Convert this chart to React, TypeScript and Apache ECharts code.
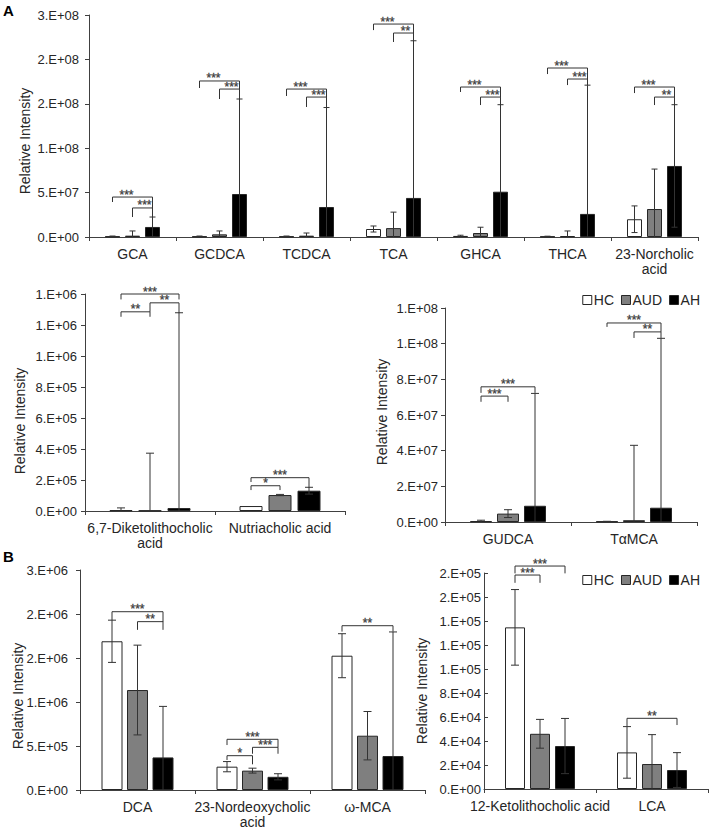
import React, { useEffect, useRef } from "react";
import * as echarts from "echarts";

const FONT = "'Liberation Sans', Arial, Helvetica, sans-serif";
const AX = "#404040";
const TXT = "#262626";
const LINE = "#333333";

const groups = ["HC", "AUD", "AH"];
const fills = ["#ffffff", "#7f7f7f", "#000000"];

// ---------- Panel A (top) ----------
const catsA = ["GCA", "GCDCA", "TCDCA", "TCA", "GHCA", "THCA", "23-Norcholic\nacid"];
const hcA = [0.6e6, 0.6e6, 0.6e6, 9.0e6, 1.2e6, 0.5e6, 2.0e7];
const hcSdA = [0.5e6, 0.5e6, 0.5e6, 3.4e6, 0.8e6, 0.4e6, 1.5e7];
const audA = [1.5e6, 3.0e6, 1.5e6, 1.0e7, 4.5e6, 1.0e6, 3.15e7];
const audSdA = [5.3e6, 3.8e6, 3.0e6, 1.8e7, 6.5e6, 5.8e6, 4.5e7];
const ahA = [1.13e7, 4.84e7, 3.38e7, 4.4e7, 5.1e7, 2.6e7, 8.0e7];
const ahSdA = [1.12e7, 1.07e8, 1.12e8, 1.77e8, 9.8e7, 1.45e8, 6.9e7];
const ticksA = ["0.E+00", "5.E+07", "1.E+08", "2.E+08", "2.E+08", "3.E+08"];
// [category, fromBar, toBar, lineValue, leftTickEnd, rightTickEnd, label]
const bracketsA: any[] = [
  [0, 0, 2, 45e6, 39.4e6, 32.7e6, "***"],
  [0, 1, 2, 32.7e6, 22.5e6, 22.5e6, "***"],
  [1, 0, 2, 175.7e6, 167.8e6, 166.6e6, "***"],
  [1, 1, 2, 166.6e6, 155.4e6, 155.4e6, "***"],
  [2, 0, 2, 166.6e6, 158.8e6, 157.6e6, "***"],
  [2, 1, 2, 157.6e6, 146.4e6, 146.4e6, "***"],
  [3, 0, 2, 239.8e6, 233e6, 229.7e6, "***"],
  [3, 1, 2, 229.7e6, 219.6e6, 220.7e6, "**"],
  [4, 0, 2, 168.9e6, 163.3e6, 157.6e6, "***"],
  [4, 1, 2, 157.6e6, 148.6e6, 148.6e6, "***"],
  [5, 0, 2, 190.3e6, 183.5e6, 177.9e6, "***"],
  [5, 1, 2, 177.9e6, 171.1e6, 171.1e6, "***"],
  [6, 0, 2, 168.9e6, 162.1e6, 157.6e6, "***"],
  [6, 1, 2, 157.6e6, 148.6e6, 148.6e6, "**"],
];

// ---------- Panel A middle-left ----------
const cats2 = ["6,7-Diketolithocholic\nacid", "Nutriacholic acid"];
const hc2 = [5e3, 3.2e4];
const hcSd2 = [1.5e4, 0];
const aud2 = [3e3, 1.03e5];
const audSd2 = [3.7e5, 4e3];
const ah2 = [1.9e4, 1.31e5];
const ahSd2 = [1.26e6, 2.2e4];
const ticks2 = ["0.E+00", "2.E+05", "4.E+05", "6.E+05", "8.E+05", "1.E+06", "1.E+06", "1.E+06"];
const brackets2: any[] = [
  [0, 0, 2, 1.4e6, 1.365e6, 1.365e6, "***"],
  [0, 1, 2, 1.343e6, 1.285e6, 1.277e6, "**"],
  [0, 0, 1, 1.285e6, 1.253e6, 1.253e6, "**"],
  [1, 0, 1, 1.63e5, 1.35e5, 1.35e5, "*"],
  [1, 0, 2, 2.15e5, 1.87e5, 1.5e5, "***"],
];

// ---------- Panel A middle-right ----------
const cats3 = ["GUDCA", "TαMCA"];
const hc3 = [0.5e6, 0.3e6];
const hcSd3 = [0.5e6, 0.1e6];
const aud3 = [4.7e6, 1.0e6];
const audSd3 = [2.2e6, 4.2e7];
const ah3 = [9.1e6, 8.0e6];
const ahSd3 = [6.3e7, 9.5e7];
const ticks3 = ["0.E+00", "2.E+07", "4.E+07", "6.E+07", "8.E+07", "1.E+08", "1.E+08"];
const brackets3: any[] = [
  [0, 0, 2, 75.8e6, 72.4e6, 72.4e6, "***"],
  [0, 0, 1, 70.6e6, 67.4e6, 67.4e6, "***"],
  [1, 0, 2, 111.6e6, 109.4e6, 106.6e6, "***"],
  [1, 1, 2, 106.6e6, 103.2e6, 103.2e6, "**"],
];

// ---------- Panel B left ----------
const cats4 = ["DCA", "23-Nordeoxycholic\nacid", "ω-MCA"];
const hc4 = [1.69e6, 0.265e6, 1.526e6];
const hcSd4 = [0.24e6, 0.058e6, 0.25e6];
const aud4 = [1.136e6, 0.22e6, 0.617e6];
const audSd4 = [0.51e6, 0.028e6, 0.275e6];
const ah4 = [0.37e6, 0.15e6, 0.386e6];
const ahSd4 = [0.58e6, 0.035e6, 1.41e6];
const ticks4 = ["0.E+00", "5.E+05", "1.E+06", "2.E+06", "2.E+06", "3.E+06"];
const brackets4: any[] = [
  [0, 0, 2, 2.026e6, 1.93e6, 1.91e6, "***"],
  [0, 1, 2, 1.913e6, 1.82e6, 1.82e6, "**"],
  [1, 0, 2, 0.576e6, 0.511e6, 0.485e6, "***"],
  [1, 1, 2, 0.485e6, 0.412e6, 0.412e6, "***"],
  [1, 0, 1, 0.39e6, 0.341e6, 0.292e6, "*"],
  [2, 0, 2, 1.867e6, 1.8e6, 1.8e6, "**"],
];

// ---------- Panel B right ----------
const cats5 = ["12-Ketolithocholic acid", "LCA"];
const hc5 = [1.347e5, 3.05e4];
const hcSd5 = [3.15e4, 2.15e4];
const aud5 = [4.6e4, 2.08e4];
const audSd5 = [1.2e4, 2.45e4];
const ah5 = [3.58e4, 1.58e4];
const ahSd5 = [2.3e4, 1.45e4];
const ticks5 = ["0.E+00", "2.E+04", "4.E+04", "6.E+04", "8.E+04", "1.E+05", "1.E+05", "1.E+05", "2.E+05", "2.E+05"];
const brackets5: any[] = [
  [0, 0, 2, 1.858e5, 1.797e5, 1.797e5, "***"],
  [0, 0, 1, 1.783e5, 1.718e5, 1.718e5, "***"],
  [1, 0, 2, 5.89e4, 5.25e4, 5.33e4, "**"],
];

const panels = [
  { cats: catsA, vals: [hcA, audA, ahA], sds: [hcSdA, audSdA, ahSdA], ticks: ticksA, interval: 5e7, max: 2.5e8,
    brackets: bracketsA, grid: [89, 15, 609, 222], barWidth: 15, step: 20, cap: 3, yMargin: 10, tickInside: false,
    name: [25, 141], shiftOuter: true },
  { cats: cats2, vals: [hc2, aud2, ah2], sds: [hcSd2, audSd2, ahSd2], ticks: ticks2, interval: 2e5, max: 1.4e6,
    brackets: brackets2, grid: [85, 294, 260, 217], barWidth: 23, step: 29, cap: 4, yMargin: 8, tickInside: false,
    name: [20, 421], shiftOuter: false },
  { cats: cats3, vals: [hc3, aud3, ah3], sds: [hcSd3, audSd3, ahSd3], ticks: ticks3, interval: 2e7, max: 1.2e8,
    brackets: brackets3, grid: [445, 308, 252, 214], barWidth: 22, step: 27, cap: 4, yMargin: 7, tickInside: false,
    name: [382, 412], shiftOuter: false },
  { cats: cats4, vals: [hc4, aud4, ah4], sds: [hcSd4, audSd4, ahSd4], ticks: ticks4, interval: 5e5, max: 2.5e6,
    brackets: brackets4, grid: [80, 570, 345, 220], barWidth: 21, step: 25.5, cap: 4, yMargin: 12, tickInside: false,
    name: [18, 696], shiftOuter: false },
  { cats: cats5, vals: [hc5, aud5, ah5], sds: [hcSd5, audSd5, ahSd5], ticks: ticks5, interval: 2e4, max: 1.8e5,
    brackets: brackets5, grid: [484, 573, 224, 216], barWidth: 20, step: 25, cap: 4, yMargin: 3, tickInside: true,
    name: [422, 691], shiftOuter: false },
];

function buildOption() {
  const series: any[] = [];
  panels.forEach((p, i) => {
    const gapPct = ((p.step - p.barWidth) / p.barWidth) * 100 + "%";
    groups.forEach((g, gi) => {
      series.push({
        type: "bar", name: g, xAxisIndex: i, yAxisIndex: i, data: p.vals[gi],
        barWidth: p.barWidth, barGap: gapPct, z: 2, silent: true,
        itemStyle: { color: fills[gi], borderColor: "#262626", borderWidth: 1 },
      });
    });
    const errs: any[] = [];
    p.vals.forEach((arr, gi) =>
      arr.forEach((v, c) => {
        const sd = p.sds[gi][c];
        if (sd > 0) errs.push({ c, g: gi, lo: Math.max(0, v - sd), hi: v + sd });
      })
    );
    series.push({
      type: "custom", xAxisIndex: i, yAxisIndex: i, z: 5, silent: true, clip: false,
      color: LINE, itemStyle: { color: LINE },
      data: errs.map((e) => [e.c, e.hi]),
      renderItem: (params: any, api: any) => {
        const e = errs[params.dataIndex];
        const t = api.coord([e.c, e.hi]);
        const b = api.coord([e.c, e.lo]);
        const x = t[0] + (e.g - 1) * p.step;
        const st = { stroke: LINE, lineWidth: 1 };
        const ch: any[] = [
          { type: "line", shape: { x1: x, y1: t[1], x2: x, y2: b[1] }, style: st },
          { type: "line", shape: { x1: x - p.cap, y1: t[1], x2: x + p.cap, y2: t[1] }, style: st },
        ];
        if (e.lo > 0) ch.push({ type: "line", shape: { x1: x - p.cap, y1: b[1], x2: x + p.cap, y2: b[1] }, style: st });
        return { type: "group", children: ch };
      },
    });
    series.push({
      type: "custom", xAxisIndex: i, yAxisIndex: i, z: 6, silent: true, clip: false,
      color: LINE, itemStyle: { color: LINE },
      data: p.brackets.map((b: any) => [b[0], b[3]]),
      renderItem: (params: any, api: any) => {
        const b = p.brackets[params.dataIndex];
        const c = api.coord([b[0], b[3]]);
        const x1 = c[0] + (b[1] - 1) * p.step;
        const x2 = c[0] + (b[2] - 1) * p.step;
        const yl = api.coord([b[0], b[4]])[1];
        const yr = api.coord([b[0], b[5]])[1];
        const st = { stroke: LINE, lineWidth: 1, fill: "none" };
        let dx = 0;
        if (p.shiftOuter) {
          if (b[1] === 0 && b[2] === 2) dx = -0.3 * p.step;
          else if (b[1] === 1 && b[2] === 2) dx = 0.1 * p.step;
        }
        return {
          type: "group",
          children: [
            { type: "polyline", shape: { points: [[x1, yl], [x1, c[1]], [x2, c[1]], [x2, yr]] }, style: st },
            {
              type: "text", x: (x1 + x2) / 2 + dx, y: c[1] - 2.5,
              style: { text: b[6], fontSize: 12, lineHeight: 7, fontFamily: FONT, fill: "#404040", stroke: "#404040",
                lineWidth: 0.3, align: "center", verticalAlign: "middle" },
            },
          ],
        };
      },
    });
  });

  const legendData = groups.map((g, gi) => ({
    name: g, itemStyle: { color: fills[gi], borderColor: "#262626", borderWidth: 1 },
  }));
  const legendBase = {
    icon: "rect", itemWidth: 9, itemHeight: 9, itemGap: 7, selectedMode: false,
    textStyle: { fontSize: 14, color: TXT, fontFamily: FONT, padding: [0, 0, 0, -3] },
    data: legendData,
  };

  const graphic: any[] = [
    { type: "text", x: 3, y: 3, style: { text: "A", font: `bold 15px ${FONT}`, fill: "#000" } },
    { type: "text", x: 3, y: 549, style: { text: "B", font: `bold 15px ${FONT}`, fill: "#000" } },
  ];
  panels.forEach((p) => {
    graphic.push({
      type: "text", x: p.name[0], y: p.name[1], rotation: Math.PI / 2,
      style: { text: "Relative Intensity", font: `14px ${FONT}`, fill: TXT, align: "center", verticalAlign: "middle" },
    });
  });

  return {
    animation: false,
    textStyle: { fontFamily: FONT },
    grid: panels.map((p) => ({ left: p.grid[0], top: p.grid[1], width: p.grid[2], height: p.grid[3], containLabel: false })),
    xAxis: panels.map((p, i) => ({
      type: "category", gridIndex: i, data: p.cats,
      axisLine: { lineStyle: { color: AX, width: 1 } },
      axisTick: { show: true, length: 4, alignWithLabel: false, lineStyle: { color: AX } },
      axisLabel: { interval: 0, fontSize: 14, color: TXT, lineHeight: 15, margin: 9, fontFamily: FONT },
      splitLine: { show: false },
    })),
    yAxis: panels.map((p, i) => ({
      type: "value", gridIndex: i, min: 0, max: p.max, interval: p.interval,
      axisLine: { show: true, lineStyle: { color: AX, width: 1 } },
      axisTick: { show: true, length: 4, inside: p.tickInside, lineStyle: { color: AX } },
      axisLabel: {
        fontSize: 13, color: TXT, margin: p.yMargin, fontFamily: FONT,
        formatter: (v: number) => p.ticks[Math.round(v / p.interval)] ?? "",
      },
      splitLine: { show: false },
    })),
    legend: [
      { ...legendBase, right: 4, top: 288 },
      { ...legendBase, right: 4, top: 568 },
    ],
    graphic,
    series,
  };
}

export default function App() {
  const ref = useRef<HTMLDivElement>(null);
  useEffect(() => {
    if (!ref.current) return;
    const chart = echarts.init(ref.current, undefined, { renderer: "svg" });
    chart.setOption(buildOption() as any);
    return () => chart.dispose();
  }, []);
  return (
    <div
      ref={ref}
      style={{ position: "absolute", left: 0, top: 0, width: 709, height: 829, background: "#fff" }}
    />
  );
}
